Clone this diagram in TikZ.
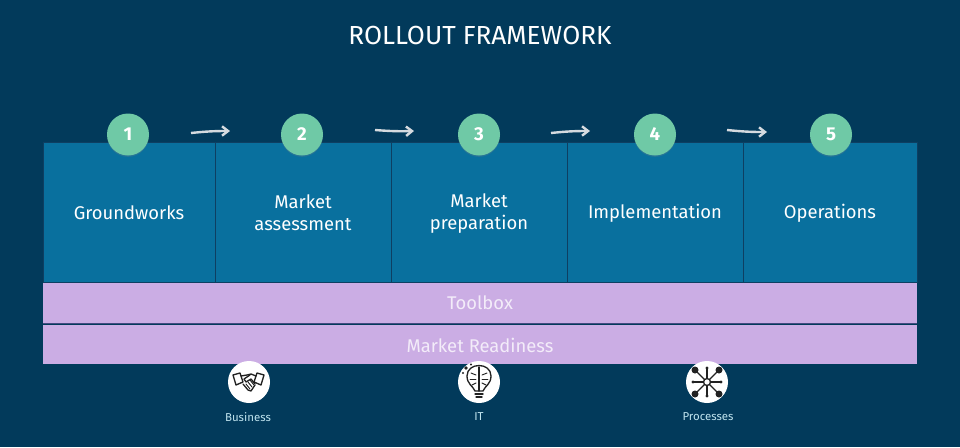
\documentclass[tikz,border=0pt]{standalone}
\usepackage{fontspec}
\setmainfont{Fira Sans}
\usepackage{tikz}
\usetikzlibrary{arrows.meta,shadows}
\definecolor{bgblue}{HTML}{023A5B}
\definecolor{stepblue}{HTML}{09709E}
\definecolor{linkblue}{HTML}{0E3F62}
\definecolor{lilac}{HTML}{CBADE4}
\definecolor{lilacline}{HTML}{434A80}
\definecolor{mint}{HTML}{6FC9A6}
\definecolor{lilactext}{HTML}{F3ECF9}
\definecolor{arrowgrey}{HTML}{D5DADF}
\definecolor{captionblue}{HTML}{BFE3EE}
\definecolor{icondark}{HTML}{222222}

\begin{document}
\begin{tikzpicture}[x=0.75pt,y=-0.75pt,>={Stealth[]},
    stepbox/.style={draw=linkblue,line width=0.7pt,fill=stepblue,text=white,align=center,
        minimum height=104.6pt,inner sep=0pt,font=\fontsize{13.8}{16.5}\selectfont},
    band/.style={fill=lilac,text=lilactext,minimum width=655.5pt,minimum height=30pt,
        inner sep=0pt,text depth=0pt,font=\fontsize{13.8}{16}\selectfont},
    badge/.style={circle,fill=mint,text=white,minimum size=31.5pt,inner sep=0pt,
        font=\fontsize{14}{16}\selectfont\bfseries,
        drop shadow={shadow xshift=0pt,shadow yshift=-1pt,opacity=0.25}},
    flow/.style={-{Straight Barb[length=4.5pt,width=7pt]},draw=arrowgrey,line width=1.8pt},
    iconbg/.style={circle,fill=white,minimum size=31.5pt,inner sep=0pt},
    caption/.style={text=captionblue,font=\fontsize{8.6}{10}\selectfont},
    ink/.style={draw=icondark,line width=1pt,line join=round,line cap=round},
    inkthin/.style={draw=icondark,line width=0.7pt,line join=round,line cap=round},
    inkdot/.style={fill=icondark}]
    \useasboundingbox (0,0) rectangle (960,447);
    \fill[bgblue] (0,0) rectangle (960,447);

    \node[text=white,font=\fontsize{19.6}{23}\selectfont] (title) at (480,35) {ROLLOUT FRAMEWORK};

    % steps
    \node[stepbox,minimum width=129pt] (groundworks) at (129,212.5) {\rule{0pt}{10.6pt}Groundworks};
    \node[stepbox,minimum width=132pt] (assessment) at (303,212.5) {\rule{0pt}{10.6pt}Market\\assessment};
    \node[stepbox,minimum width=132pt] (preparation) at (479,212.5) {\rule{0pt}{12.6pt}Market\\preparation};
    \node[stepbox,minimum width=132pt] (implementation) at (655,212.5) {\rule{0pt}{12.6pt}Implementation};
    \node[stepbox,minimum width=130.5pt] (operations) at (830,212.5) {\rule{0pt}{12.6pt}Operations};

    \node[band] (toolbox) at (480,303) {Toolbox};
    \node[band,minimum height=29.25pt] (readiness) at (480,344.5) {\rule{0pt}{11.4pt}Market Readiness};
    \draw[lilacline,line width=1pt] (toolbox.south west) -- (toolbox.south east);

    \node[badge] (one) at (128,134.5) {1};
    \node[badge] (two) at (302,134.5) {2};
    \node[badge] (three) at (479,134.5) {3};
    \node[badge] (four) at (655,134.5) {4};
    \node[badge] (five) at (831,134.5) {5};

    % arrows between the numbers
    \coordinate (a1) at (191,133);
    \coordinate (a2) at (230,131);
    \coordinate (b1) at (375,130);
    \coordinate (b2) at (414,131);
    \coordinate (c1) at (551,133);
    \coordinate (c2) at (590,131);
    \coordinate (d1) at (727,130);
    \coordinate (d2) at (767,132);
    \draw[flow] (a1) to[bend left=3] (a2);
    \draw[flow] (b1) to[bend right=3] (b2);
    \draw[flow] (c1) to[bend left=3] (c2);
    \draw[flow] (d1) to[bend right=3] (d2);

    % bottom icons
    \node[iconbg] (business) at (249,382) {};
    \node[iconbg] (it) at (479,382) {};
    \node[iconbg] (processes) at (707,382) {};
    \node[caption] (businesslabel) at (248,417) {Business};
    \node[caption] (itlabel) at (479,417) {IT};
    \node[caption] (processeslabel) at (708,417) {Processes};

    % handshake
    \draw[ink] (233,375) -- (240,373) -- (243,382) -- (236,385) -- cycle;
    \draw[ink] (264,375) -- (257,373) -- (254,382) -- (261,385) -- cycle;
    \draw[ink] (241,376) -- (247,375) -- (251,374) -- (256,376);
    \draw[ink] (250,375) -- (244,379) -- (246,382) -- (251,379) -- (255,384);
    \draw[ink] (243,384) -- (248,390) -- (251,391) -- (255,385);
    \draw[inkthin] (246,384) -- (250,389);
    \draw[inkthin] (248,382) -- (252,387);
    \draw[inkthin] (250,380) -- (254,385);

    % brain bulb
    \draw[ink] (475,391) .. controls (473,386) and (467,384) .. (467,376)
        .. controls (467,362) and (491,362) .. (491,376)
        .. controls (491,384) and (485,386) .. (483,391) -- cycle;
    \draw[ink] (479,367) -- (479,391);
    \draw[inkthin] (471,373) -- (476,375);
    \draw[inkthin] (470,379) -- (476,379);
    \draw[inkthin] (472,385) -- (476,383);
    \draw[inkthin] (487,373) -- (482,375);
    \draw[inkthin] (488,379) -- (482,379);
    \draw[inkthin] (486,385) -- (482,383);
    \draw[ink] (475,394) -- (483,394);
    \draw[ink] (476,397) -- (482,397);
    \fill[inkdot] (466,368) circle (1.8);
    \fill[inkdot] (471,364.5) circle (1.1);
    \fill[inkdot] (463,373) circle (1.1);

    % network
    \draw[ink] (707,382) circle (3.5);
    \draw[ink] (707,378.5) -- (707,368);
    \draw[ink] (707,385.5) -- (707,396);
    \draw[ink] (703.5,382) -- (693,382);
    \draw[ink] (710.5,382) -- (721,382);
    \draw[ink] (704.5,379.5) -- (697,372);
    \draw[ink] (709.5,379.5) -- (717,372);
    \draw[ink] (704.5,384.5) -- (697,392);
    \draw[ink] (709.5,384.5) -- (717,392);
    \fill[inkdot] (695,370) circle (3.5);
    \fill[inkdot] (719,370) circle (3.5);
    \fill[inkdot] (695,394) circle (3.5);
    \fill[inkdot] (719,394) circle (3.5);
    \fill[inkdot] (707,368) circle (1.6);
    \fill[inkdot] (707,396) circle (1.6);
    \fill[inkdot] (693,382) circle (1.6);
    \fill[inkdot] (721,382) circle (1.6);
\end{tikzpicture}
\end{document}
